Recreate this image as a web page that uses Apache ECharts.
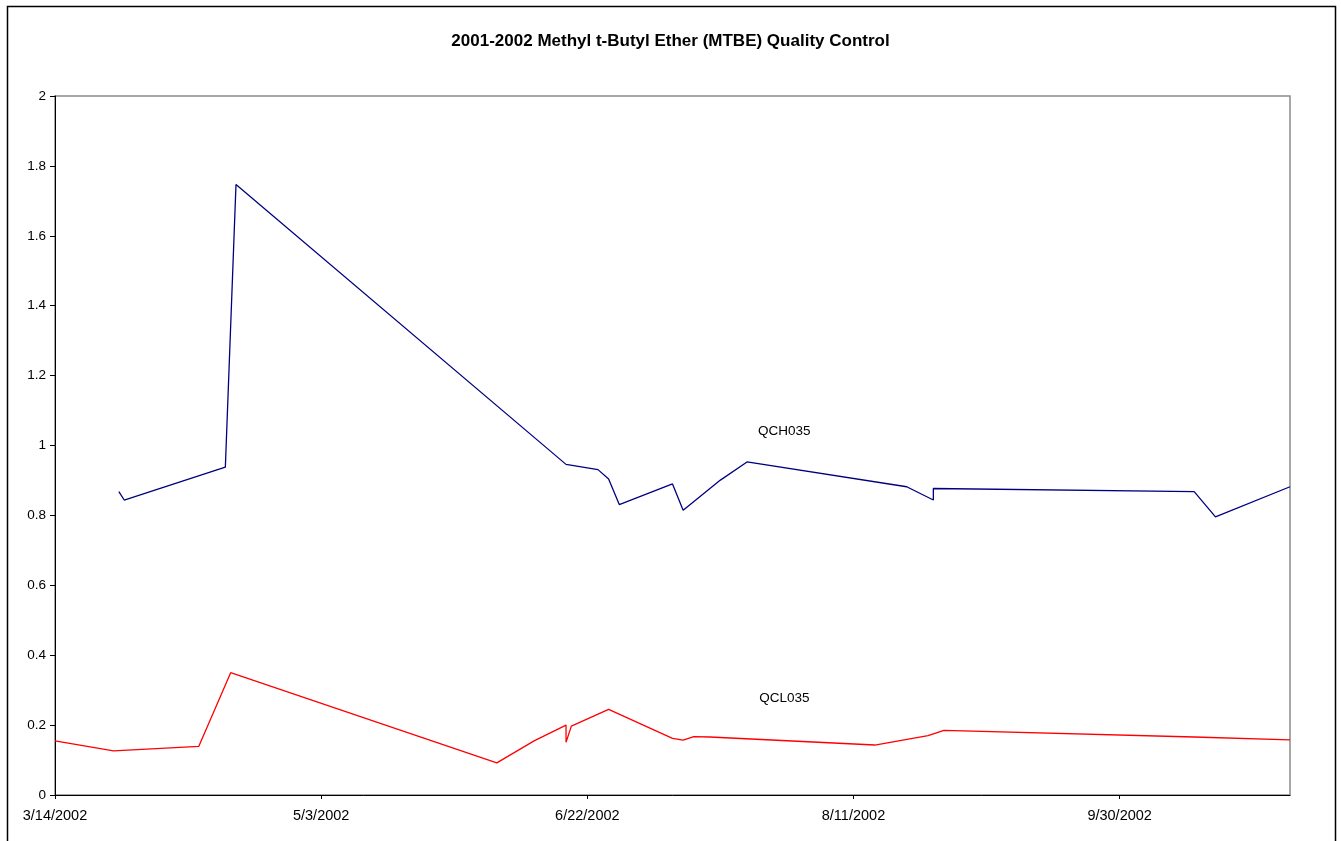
<!DOCTYPE html>
<html>
<head>
<meta charset="utf-8">
<title>MTBE Quality Control</title>
<script src="https://cdn.jsdelivr.net/npm/echarts@6/dist/echarts.min.js"></script>
<style>
  html, body { margin: 0; padding: 0; background: #fff; }
  #chart { width: 1341px; height: 841px; }
</style>
</head>
<body>
<div id="chart"></div>
<script>
// QC data, [date, value]
const qchDates = ['2002-03-26', '2002-03-27', '2002-04-15', '2002-04-17', '2002-06-18', '2002-06-24',
  '2002-06-26', '2002-06-28', '2002-07-08', '2002-07-10', '2002-07-17', '2002-07-22', '2002-08-21',
  '2002-08-26', '2002-08-26', '2002-10-14', '2002-10-18', '2002-11-01']
const qchValues = [0.868, 0.844, 0.938, 1.747, 0.946, 0.931, 0.904, 0.831, 0.890, 0.815, 0.901, 0.953,
  0.882, 0.844, 0.877, 0.868, 0.796, 0.882]

const qclDates = ['2002-03-14', '2002-03-25', '2002-04-10', '2002-04-16', '2002-06-05', '2002-06-12',
  '2002-06-18', '2002-06-18', '2002-06-19', '2002-06-26', '2002-07-08', '2002-07-10', '2002-07-12',
  '2002-07-15', '2002-08-15', '2002-08-25', '2002-08-28', '2002-10-14', '2002-11-01']
const qclValues = [0.155, 0.126, 0.139, 0.350, 0.092, 0.155, 0.200, 0.151, 0.197, 0.245, 0.162, 0.157,
  0.167, 0.166, 0.143, 0.170, 0.185, 0.166, 0.158]

// series labels placed in data space
const labelNames = ['QCH035', 'QCL035']
const labelDates = ['2002-07-29', '2002-07-29']
const labelValues = [1.04, 0.278]

const DAY = 86400000
const toTs = s => {
  const [y, m, d] = s.split('-').map(Number)
  return Date.UTC(y, m - 1, d)
}
const pairs = (dates, values) => dates.map((d, i) => [toTs(d), values[i]])

const xMin = toTs('2002-03-14')
const xMax = toTs('2002-11-01')

const chart = echarts.init(document.getElementById('chart'))

const font = 'Liberation Sans, Arial, sans-serif'

// text label pinned to a data coordinate (invisible marker)
const makeLabel = i => ({
  symbol: 'circle',
  symbolSize: 1,
  silent: true,
  itemStyle: { color: 'rgba(0,0,0,0)' },
  label: {
    show: true,
    position: 'inside',
    formatter: labelNames[i],
    color: '#000',
    fontFamily: font,
    fontSize: 13.5
  },
  data: [{ coord: [toTs(labelDates[i]), labelValues[i]] }]
})

chart.setOption({
  animation: false,
  backgroundColor: '#fff',
  title: {
    text: '2001-2002 Methyl t-Butyl Ether (MTBE) Quality Control',
    left: 'center',
    top: 28,
    textStyle: {
      fontFamily: font,
      fontSize: 17,
      fontWeight: 'bold',
      color: '#000'
    }
  },
  graphic: [{
    type: 'rect',
    shape: { x: 7.5, y: 6.5, width: 1328, height: 900 },
    style: { fill: 'none', stroke: '#000', lineWidth: 1.5 },
    silent: true
  }],
  grid: {
    left: 55,
    top: 96,
    right: 51,
    bottom: 46,
    show: true,
    borderColor: '#8c8c8c',
    borderWidth: 1.5,
    backgroundColor: '#fff'
  },
  xAxis: {
    type: 'value',
    min: xMin,
    max: xMax,
    interval: 50 * DAY,
    splitLine: { show: false },
    axisLine: { lineStyle: { color: '#000', width: 1 } },
    axisTick: { show: true, length: 4, lineStyle: { color: '#000' } },
    axisLabel: {
      color: '#000',
      fontFamily: font,
      fontSize: 14.5,
      margin: 13,
      showMaxLabel: false,
      formatter: v => {
        const d = new Date(v)
        return (d.getUTCMonth() + 1) + '/' + d.getUTCDate() + '/' + d.getUTCFullYear()
      }
    }
  },
  yAxis: {
    type: 'value',
    min: 0,
    max: 2,
    interval: 0.2,
    splitLine: { show: false },
    axisLine: { show: true, lineStyle: { color: '#000', width: 1 } },
    axisTick: { show: true, length: 5, lineStyle: { color: '#000' } },
    axisLabel: {
      color: '#000',
      fontFamily: font,
      fontSize: 13.5,
      margin: 9,
      formatter: v => String(Math.round(v * 10) / 10)
    }
  },
  series: [
    {
      name: 'QCH035',
      type: 'line',
      data: pairs(qchDates, qchValues),
      showSymbol: false,
      lineStyle: { color: '#000080', width: 1.3 },
      itemStyle: { color: '#000080' },
      markPoint: makeLabel(0)
    },
    {
      name: 'QCL035',
      type: 'line',
      data: pairs(qclDates, qclValues),
      showSymbol: false,
      lineStyle: { color: '#ff0000', width: 1.3 },
      itemStyle: { color: '#ff0000' },
      markPoint: makeLabel(1)
    }
  ]
})
</script>
</body>
</html>
